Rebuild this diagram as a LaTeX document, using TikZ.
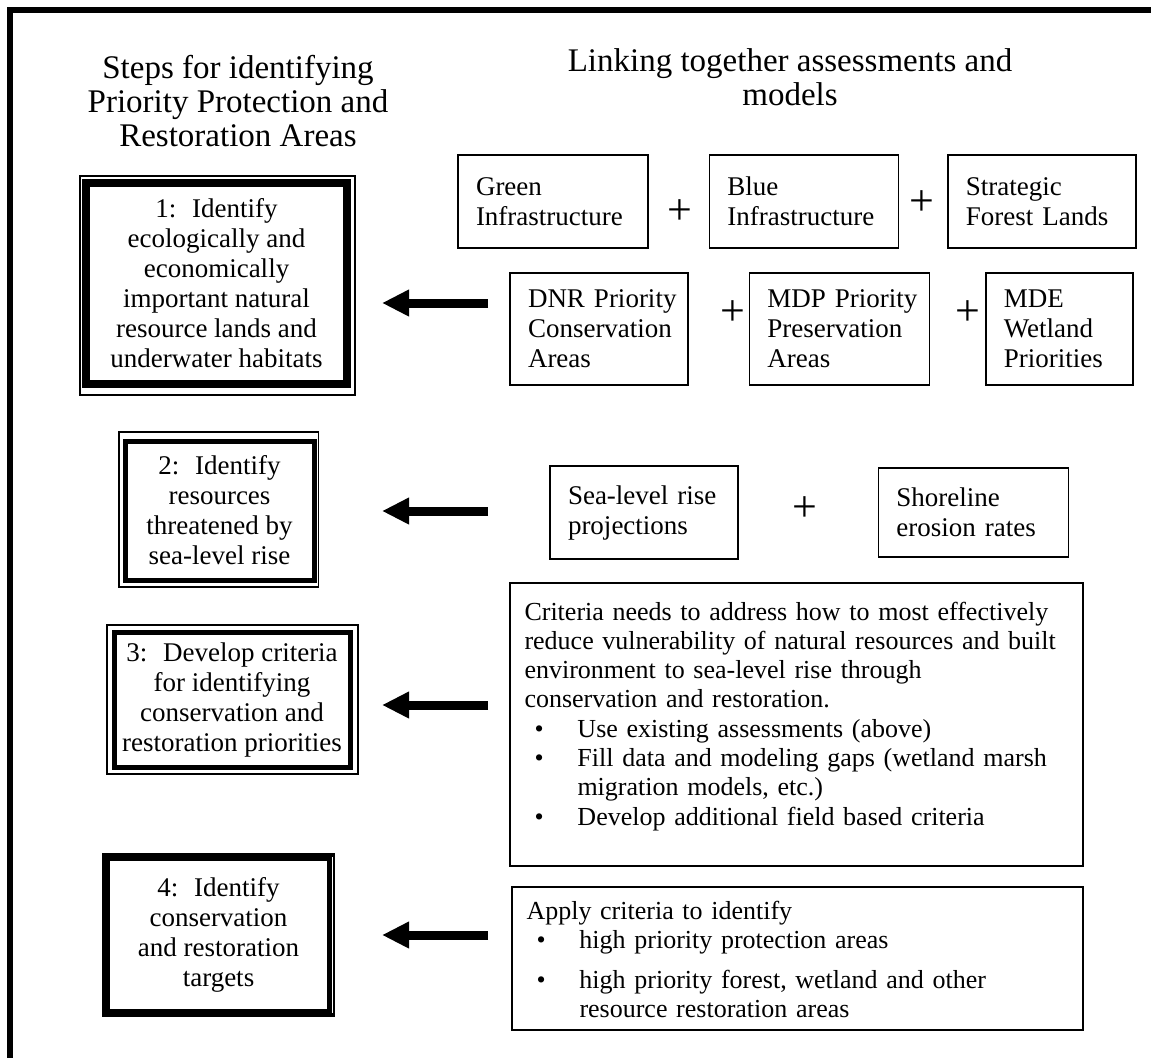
\documentclass[tikz,border=0pt]{standalone}
\usepackage{fontspec}
\setmainfont{Liberation Serif}
\usetikzlibrary{positioning,arrows.meta}

\hyphenpenalty=10000
\exhyphenpenalty=10000
\newcommand{\bodyfont}{\fontsize{13.5}{15}\selectfont}
\newcommand{\notefont}{\fontsize{13}{14.65}\selectfont}
\newcommand{\headfont}{\fontsize{16.5}{17}\selectfont}
\newcommand{\bitem}{\makebox[26.5pt][l]{\hspace{5pt}\textbullet}}
\newcommand{\bindent}{\hspace*{26.5pt}}

\tikzset{
  stepthick/.style={draw, line width=4pt, align=center, font=\bodyfont, inner sep=0pt},
  stepdouble/.style={draw, line width=2.5pt, align=center, font=\bodyfont, inner sep=0pt},
  srcbox/.style={draw, line width=0.7pt, align=left, font=\bodyfont, inner xsep=9pt, inner ysep=0pt, minimum height=46.5pt},
  notebox/.style={draw, line width=0.7pt, align=left, font=\notefont, inner xsep=7.25pt, inner ysep=0pt},
  plus/.style={font=\fontsize{22}{22}\selectfont, inner sep=0pt},
  heading/.style={align=center, font=\headfont},
  bigarrow/.style={line width=4.5pt, -{Triangle[length=13.5pt,width=12.5pt]}}
}

\begin{document}
\begin{tikzpicture}[x=0.5pt, y=-0.5pt]
  \useasboundingbox (0,0) rectangle (1151,1057);
  \clip (0,0) rectangle (1151,1057);
  % outer frame, cut off at right and bottom
  \draw[line width=3pt] (10,1080) -- (10,10) -- (1180,10);

  % headings
  \node[heading] (HL) at (238,101.5) {Steps for identifying\\Priority Protection and\\Restoration Areas};
  \node[heading] (HR) at (790,77.5) {Linking together assessments and\\models};

  % steps
  \node[stepthick, minimum width=130.5pt, minimum height=100.5pt] (S1) at (216.5,283.5)
    {1:~ Identify\\ecologically and\\economically\\important natural\\resource lands and\\underwater habitats};
  \draw[line width=0.6pt] ([shift={(-1pt,1.5pt)}]S1.north west) rectangle ([shift={(2pt,-3.5pt)}]S1.south east);

  \node[stepdouble, minimum width=94.5pt, minimum height=69.5pt] (S2) at (219.5,510.5)
    {2:~ Identify\\resources\\threatened by\\sea-level rise};
  \draw[line width=0.6pt] ([shift={(-1.75pt,3.25pt)}]S2.north west) rectangle ([shift={(0.9pt,-2.25pt)}]S2.south east);

  \node[stepdouble, minimum width=118pt, minimum height=67.5pt] (S3) at (232,699.5)
    {3:~ Develop criteria\\for identifying\\conservation and\\restoration priorities};
  \draw[line width=0.6pt] ([shift={(-2.25pt,2.25pt)}]S3.north west) rectangle ([shift={(2.75pt,-2.25pt)}]S3.south east);

  \node[stepthick, minimum width=112.5pt, minimum height=78pt] (S4) at (218.5,935)
    {4:~ Identify\\conservation\\and restoration\\targets};
  \draw[white, line width=0.5pt] ([shift={(-1.5pt,-2pt)}]S4.north east) -- ([shift={(-1.5pt,2pt)}]S4.south east);

  % assessments and models
  \node[srcbox, text width=77pt] (GI) at (553,201.5) {Green\\Infrastructure};
  \node[srcbox, text width=76.5pt, right=30pt of GI] (BI) {Blue\\Infrastructure};
  \node[srcbox, text width=76pt, right=24pt of BI] (SF) {Strategic\\Forest Lands};

  \node[srcbox, text width=71pt, minimum height=56pt] (DNR) at (599,329) {DNR~Priority\\Conservation\\Areas};
  \node[srcbox, text width=72pt, minimum height=56pt, right=30pt of DNR] (MDP) {MDP~Priority\\Preservation\\Areas};
  \node[srcbox, text width=55.5pt, minimum height=56pt, right=27.5pt of MDP] (MDE) {MDE\\Wetland\\Priorities};

  \node[srcbox, text width=76pt] (SLR) at (644,512.5) {Sea-level~rise\\projections};
  \node[srcbox, text width=77pt, minimum height=44.5pt, right=69.5pt of SLR] (SER) {Shoreline\\erosion rates};

  \node[notebox, text width=272pt, text height=18.5pt, text depth=123pt] (CR) at (796.5,724.5)
    {Criteria needs to address how to most effectively\\
     reduce vulnerability of natural resources and built\\
     environment to sea-level rise through\\
     conservation and restoration.\\
     \bitem Use existing assessments (above)\\
     \bitem Fill data and modeling gaps (wetland marsh\\
     \bindent migration models, etc.)\\
     \bitem Develop additional field based criteria};

  \node[notebox, text width=271pt, text height=16pt, text depth=55.5pt] (AP) at (797.5,958.5)
    {Apply criteria to identify\\
     \bitem high priority protection areas\\[5.5pt]
     \bitem high priority forest, wetland and other\\
     \bindent resource restoration areas};

  % plus signs
  \node[plus] (p1) at (680,212) {+};
  \node[plus] (p2) at (922,203) {+};
  \node[plus] (p3) at (733,313) {+};
  \node[plus] (p4) at (968,313) {+};
  \node[plus] (p5) at (805,509) {+};

  % arrows into the steps
  \foreach \i/\y in {1/303,2/511,3/705,4/935}{
    \coordinate (tail\i) at (488,\y);
    \coordinate (tip\i) at (382,\y);
    \draw[bigarrow] (tail\i) -- (tip\i);
  }
\end{tikzpicture}
\end{document}
